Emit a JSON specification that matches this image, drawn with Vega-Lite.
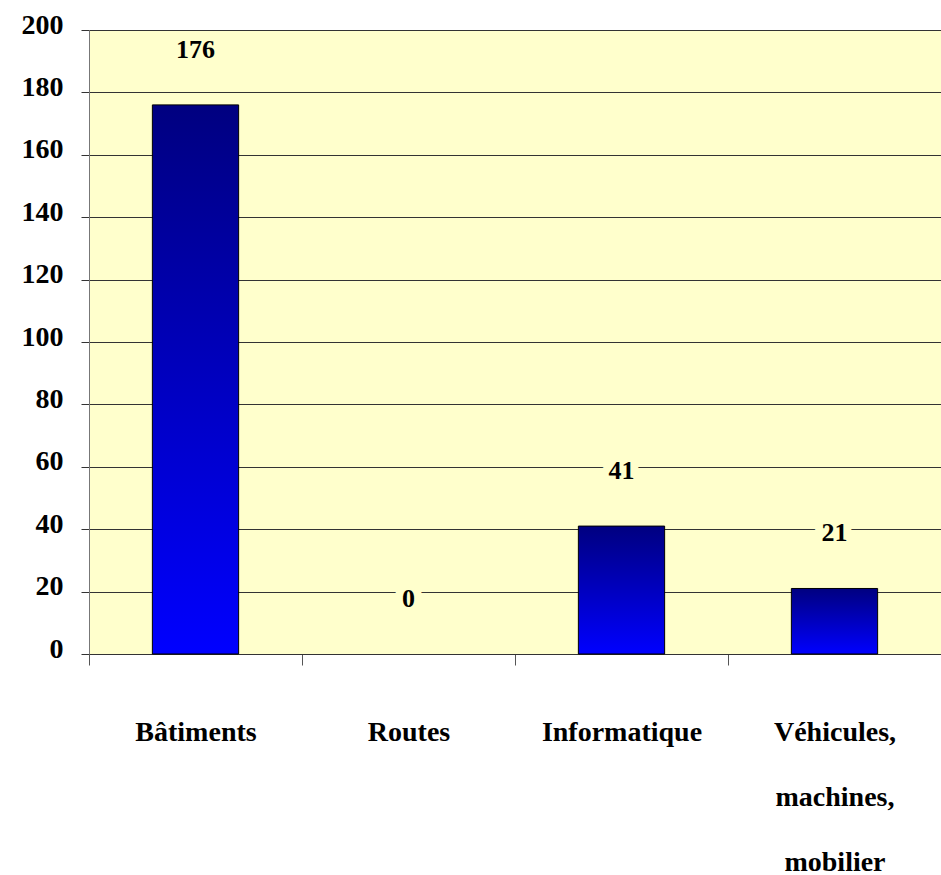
{
  "$schema": "https://vega.github.io/schema/vega-lite/v6.json",
  "autosize": {"type": "none"},
  "width": 852,
  "height": 624,
  "padding": {"left": 89, "top": 30, "right": 0, "bottom": 221},
  "background": "white",
  "config": {
    "view": {"stroke": null, "fill": "#FFFFCC"},
    "font": "Liberation Serif"
  },
  "data": {
    "values": [
      {"categorie": "Bâtiments", "valeur": 176},
      {"categorie": "Routes", "valeur": 0},
      {"categorie": "Informatique", "valeur": 41},
      {"categorie": "Véhicules, machines, mobilier", "valeur": 21}
    ]
  },
  "encoding": {
    "x": {
      "field": "categorie",
      "type": "nominal",
      "sort": null,
      "scale": {"paddingInner": 0, "paddingOuter": 0},
      "axis": {
        "title": null,
        "labelAngle": 0,
        "labelFontSize": 28,
        "labelFontWeight": "bold",
        "labelColor": "black",
        "labelBaseline": "alphabetic",
        "labelPadding": 75,
        "labelLineHeight": 65,
        "labelLimit": 0,
        "labelExpr": "datum.value == 'Véhicules, machines, mobilier' ? ['Véhicules,', 'machines,', 'mobilier'] : datum.value",
        "tickBand": "extent",
        "tickSize": 11,
        "tickColor": "#555555",
        "domainColor": "#333333",
        "grid": false
      }
    },
    "y": {
      "field": "valeur",
      "type": "quantitative",
      "scale": {"domain": [0, 200], "nice": false},
      "axis": {
        "title": null,
        "values": [0, 20, 40, 60, 80, 100, 120, 140, 160, 180, 200],
        "labelFontSize": 28,
        "labelFontWeight": "bold",
        "labelColor": "black",
        "labelPadding": 18,
        "labelOffset": -5,
        "tickSize": 8,
        "tickColor": "#333333",
        "domainColor": "#777777",
        "grid": true,
        "gridColor": "#333333",
        "gridOpacity": 1,
        "gridWidth": 1
      }
    }
  },
  "layer": [
    {
      "mark": {
        "type": "bar",
        "width": {"band": 0.405},
        "stroke": "black",
        "fill": {
          "gradient": "linear",
          "x1": 0, "y1": 0, "x2": 0, "y2": 1,
          "stops": [
            {"offset": 0, "color": "#000080"},
            {"offset": 1, "color": "#0000FF"}
          ]
        }
      },
      "encoding": {
        "strokeWidth": {
          "condition": {"test": "datum.valeur == 0", "value": 0},
          "value": 1
        }
      }
    },
    {
      "mark": {
        "type": "text",
        "baseline": "alphabetic",
        "dy": -47,
        "fontSize": 26,
        "fontWeight": "bold",
        "fill": "#FFFFCC",
        "stroke": "#FFFFCC",
        "strokeWidth": 16
      },
      "encoding": {"text": {"field": "valeur", "type": "quantitative"}}
    },
    {
      "mark": {
        "type": "text",
        "baseline": "alphabetic",
        "dy": -47,
        "fontSize": 26,
        "fontWeight": "bold",
        "color": "black"
      },
      "encoding": {"text": {"field": "valeur", "type": "quantitative"}}
    }
  ]
}
